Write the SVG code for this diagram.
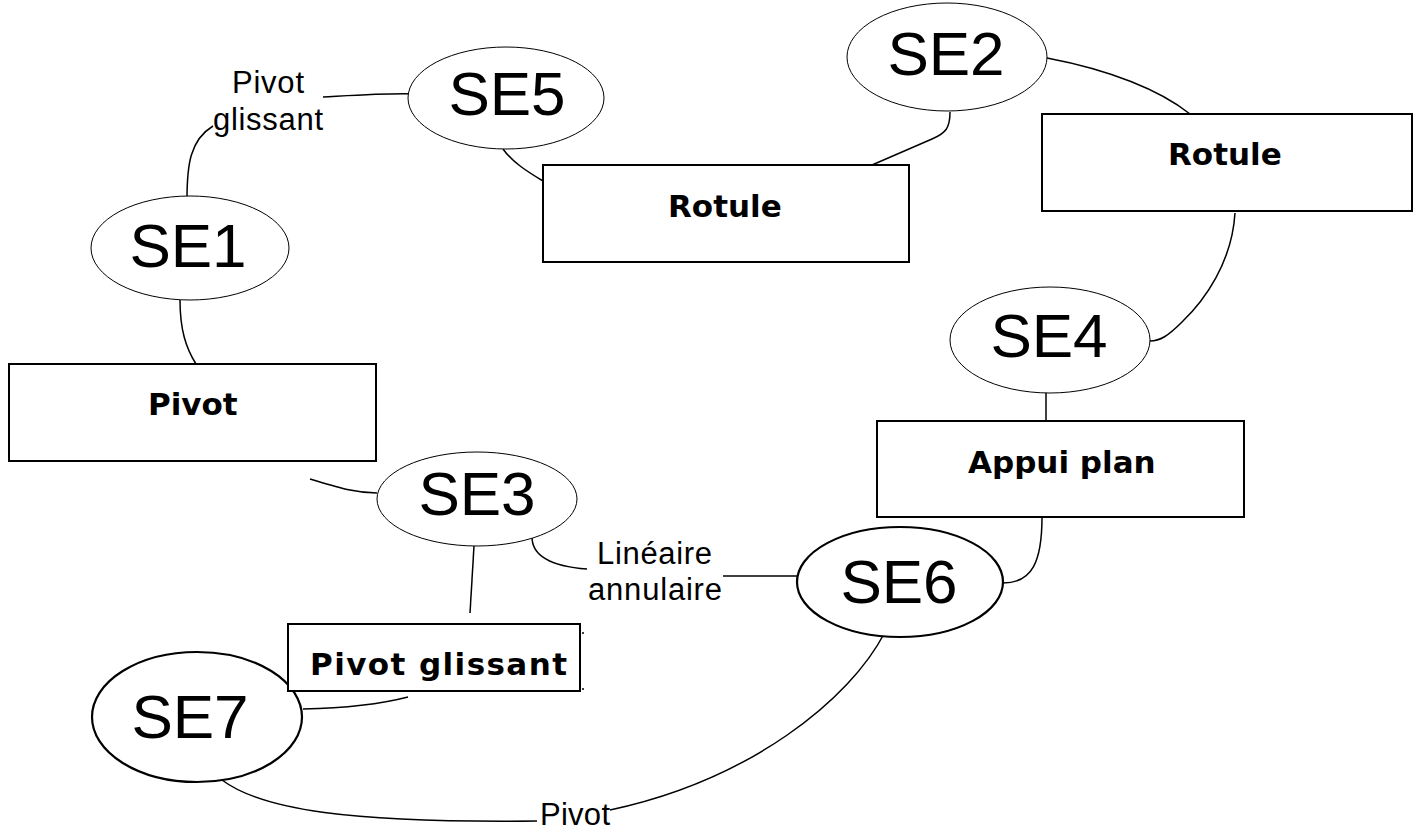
<svg xmlns="http://www.w3.org/2000/svg" width="1414" height="832" viewBox="0 0 1414 832">
<style>
.se{fill:#fff;stroke:#000;stroke-width:1}
.se6{fill:#fff;stroke:#000;stroke-width:2.2}
.box{fill:#fff;stroke:#000;stroke-width:2}
.st{font-family:"Liberation Sans",Arial,sans-serif;font-size:62px;fill:#000;text-anchor:middle}
.bt{font-family:"Comic Sans MS","DejaVu Sans",sans-serif;font-weight:bold;font-size:31px;fill:#000}
.lt{font-family:"Liberation Sans",Arial,sans-serif;font-size:31px;fill:#000}
.c{fill:none;stroke:#000;stroke-width:1.5}
</style>
<rect width="1414" height="832" fill="#fff"/>
<g id="connectors">
<path class="c" d="M187,199 C187,165 190,140 213,126"/>
<path class="c" d="M323,97 C360,95 390,93 415,94"/>
<path class="c" d="M503,149 C512,162 528,172 543,181"/>
<path class="c" d="M950,112 C950,128 946,133 932,139 L872,165"/>
<path class="c" d="M1047,58 C1110,70 1160,90 1190,114"/>
<path class="c" d="M1235,213 C1232,262 1205,300 1182,322 C1168,336 1160,341 1150,341"/>
<path class="c" d="M180,300 C180,330 186,348 196,364"/>
<path class="c" d="M1046,392 L1046,421"/>
<path class="c" d="M1042,517 C1042,562 1032,583 1003,583"/>
<path class="c" d="M310,479 C340,488 355,493 377,493"/>
<path class="c" d="M474,546 L470,613"/>
<path class="c" d="M532,537 C532,560 560,567 587,569"/>
<path class="c" d="M723,576 L797,576"/>
<path class="c" d="M303,709 C350,708 385,703 408,697"/>
<path class="c" d="M222,780 C262,810 350,823 537,821"/>
<path class="c" d="M610,810 C750,780 850,700 885,632"/>
<text class="lt" x="232" y="93" textLength="72">Pivot</text>
<text class="lt" x="213" y="130" textLength="110">glissant</text>
<text class="lt" x="597" y="564" textLength="115">Linéaire</text>
<text class="lt" x="588" y="600" textLength="134">annulaire</text>
<text class="lt" x="540" y="825" textLength="70">Pivot</text>
</g>
<g id="SE5"><ellipse class="se" cx="506" cy="98" rx="98" ry="51"/><text class="st" x="507" y="115">SE5</text></g>
<g id="SE2"><ellipse class="se" cx="947" cy="57" rx="100" ry="54"/><text class="st" x="946" y="75">SE2</text></g>
<g id="SE1"><ellipse class="se" cx="190" cy="248" rx="99" ry="52"/><text class="st" x="188" y="267">SE1</text></g>
<g id="SE4"><ellipse class="se" cx="1050" cy="340" rx="100" ry="53"/><text class="st" x="1049" y="357">SE4</text></g>
<g id="SE3"><ellipse class="se" cx="477" cy="499" rx="100" ry="47"/><text class="st" x="477" y="515">SE3</text></g>
<g id="SE6"><ellipse class="se6" cx="900" cy="582" rx="103" ry="55"/><text class="st" x="899" y="603">SE6</text></g>
<g id="SE7"><ellipse class="se6" cx="197" cy="717" rx="105" ry="65"/><text class="st" x="190" y="738">SE7</text></g>
<g id="rotule-mid"><rect class="box" x="543" y="165" width="366" height="97"/><text class="bt" x="668" y="217">Rotule</text></g>
<g id="rotule-right"><rect class="box" x="1042" y="114" width="370" height="97"/><text class="bt" x="1168" y="165">Rotule</text></g>
<g id="pivot"><rect class="box" x="9" y="364" width="367" height="97"/><text class="bt" x="148" y="415">Pivot</text></g>
<g id="appui-plan"><rect class="box" x="877" y="421" width="367" height="96"/><text class="bt" x="968" y="473">Appui plan</text></g>
<g id="pivot-glissant"><rect class="box" x="288" y="624" width="292" height="67"/><text class="bt" x="310" y="675" textLength="257">Pivot glissant</text>
<line x1="582" y1="633" x2="584" y2="633" stroke="#000" stroke-width="1.5"/><line x1="582" y1="689" x2="584" y2="689" stroke="#000" stroke-width="1.5"/></g>
</svg>
